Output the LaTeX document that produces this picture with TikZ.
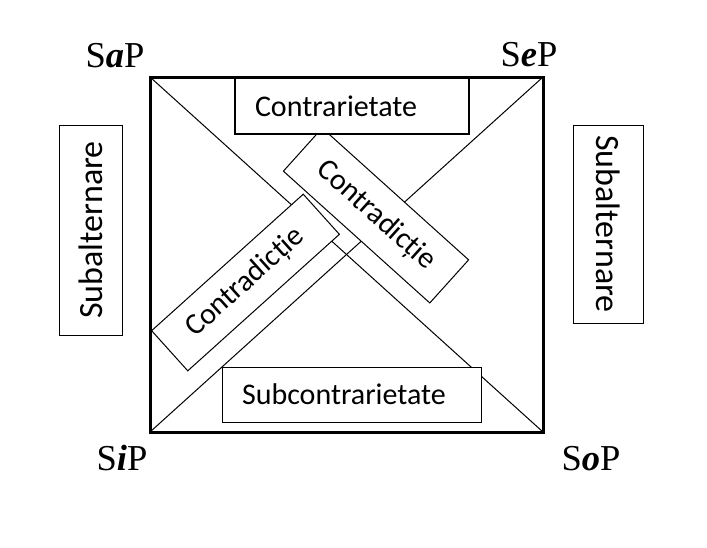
\documentclass[tikz,border=0pt]{standalone}
\usepackage{fontspec}
\setmainfont{Liberation Serif}
\newfontfamily\carl{Carlito}
\begin{document}
\begin{tikzpicture}[x=1pt,y=-1pt,
  lab/.style={font=\fontsize{36.5}{40}\selectfont, anchor=base, inner sep=0pt},
  sbox/.style={draw, fill=white, line width=1pt, inner sep=0pt,
    font=\carl\fontsize{30}{34}\selectfont},
  vbox/.style={sbox, font=\carl\fontsize{34}{38}\selectfont},
  diag/.style={line width=1pt}]
\useasboundingbox (0,0) rectangle (707,547);
\coordinate (A) at (150,77);
\coordinate (E) at (543,77);
\coordinate (I) at (150,432);
\coordinate (O) at (543,432);
\draw[diag] (A) -- (O);
\draw[diag] (E) -- (I);
\draw[line width=3pt] (A) rectangle (O);
% contradiction boxes
\node[sbox, rotate=-42, minimum width=197pt, minimum height=58pt] (cd2) at (376,215.5) {Contradicție};
\node[sbox, rotate=42, minimum width=204pt, minimum height=54pt] (cd1) at (245.5,282.5) {Contradicție};
% contrariety
\node[sbox, line width=1.8pt, text width=194pt, inner xsep=20pt, align=left, minimum height=56pt] (ctr) at (352,106) {Contrarietate};
\node[sbox, text width=219pt, inner xsep=20pt, align=left, minimum height=55pt] (sub) at (351.5,394.5) {Subcontrarietate};
% subalternation
\node[vbox, rotate=90, minimum width=210pt, minimum height=63pt] (sl) at (90.5,230) {Subalternare};
\node[vbox, rotate=-90, minimum width=198pt, minimum height=70pt] (sr) at (608,224) {Subalternare};
% labels
\node[lab] (sap) at (115,67) {S\textbf{\textit{a}}P};
\node[lab] (sep) at (529,66) {S\textbf{\textit{e}}P};
\node[lab] (sip) at (122,470) {S\textbf{\textit{i}}P};
\node[lab] (sop) at (591,470) {S\textbf{\textit{o}}P};
\end{tikzpicture}
\end{document}
